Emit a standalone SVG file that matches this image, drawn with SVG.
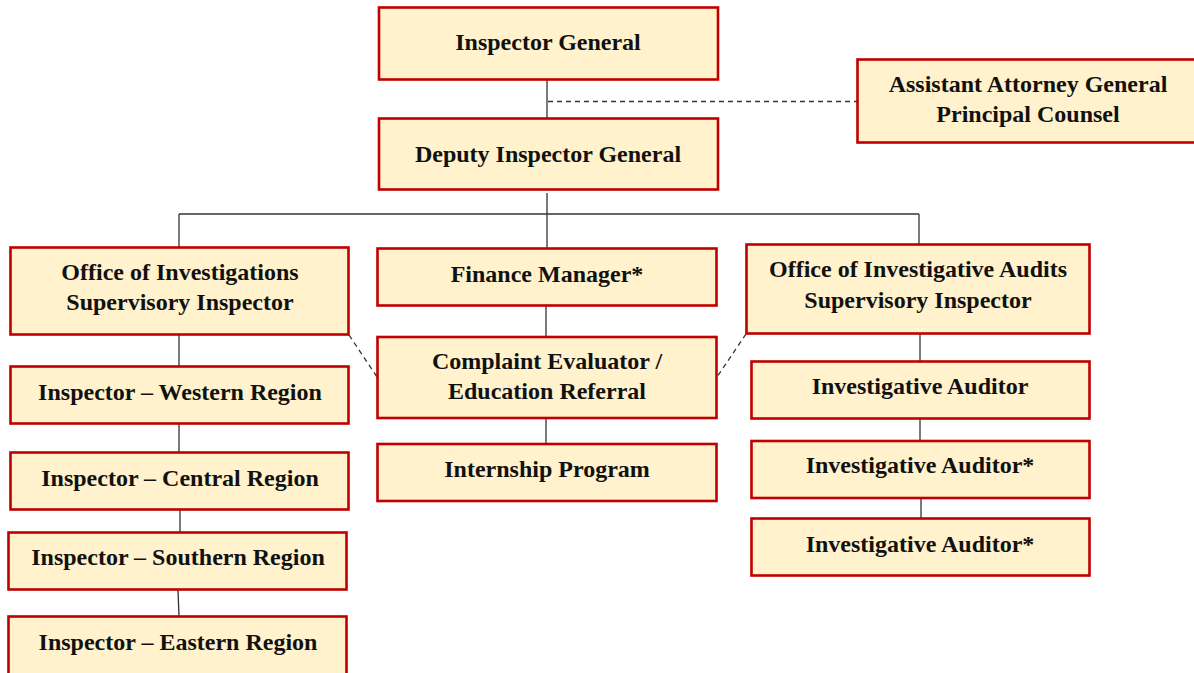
<svg xmlns="http://www.w3.org/2000/svg" width="1194" height="673" viewBox="0 0 1194 673">
<style>
.box{fill:#fff2cc;stroke:#c00000;stroke-width:2.6}
.t{font-family:"Liberation Serif","Times New Roman",serif;font-weight:bold;font-size:24px;fill:#111;text-anchor:middle}
.c{stroke:#333;stroke-width:1.3;fill:none}
.d{stroke:#333;stroke-width:1.3;fill:none;stroke-dasharray:5,4}
</style>
<rect width="1194" height="673" fill="#ffffff"/>
<g id="connectors">
<line class="c" x1="547" y1="80" x2="547" y2="118"/>
<line class="d" x1="548" y1="101.5" x2="857" y2="101.5"/>
<line class="c" x1="547" y1="193" x2="547" y2="248"/>
<line class="c" x1="179" y1="214" x2="919" y2="214"/>
<line class="c" x1="179" y1="214" x2="179" y2="247"/>
<line class="c" x1="919" y1="214" x2="919" y2="244"/>
<line class="c" x1="179" y1="335" x2="179" y2="366"/>
<line class="c" x1="179" y1="424" x2="179" y2="452"/>
<line class="c" x1="180" y1="510" x2="180" y2="532"/>
<line class="c" x1="178" y1="590" x2="179" y2="616"/>
<line class="c" x1="546" y1="306" x2="546" y2="337"/>
<line class="c" x1="546" y1="418" x2="546" y2="444"/>
<line class="c" x1="920" y1="334" x2="920" y2="361"/>
<line class="c" x1="920" y1="419" x2="920" y2="441"/>
<line class="c" x1="921" y1="499" x2="921" y2="518"/>
<line class="d" x1="349" y1="335" x2="377" y2="377"/>
<line class="d" x1="746" y1="334" x2="717" y2="377"/>
</g>
<g id="inspector-general">
<rect class="box" x="379" y="7.5" width="339" height="72"/>
<text class="t" x="548" y="50">Inspector General</text>
</g>
<g id="assistant-attorney-general">
<rect class="box" x="857.5" y="59.5" width="342" height="83"/>
<text class="t" x="1028" y="92">Assistant Attorney General</text>
<text class="t" x="1028" y="122">Principal Counsel</text>
</g>
<g id="deputy-inspector-general">
<rect class="box" x="379" y="118.5" width="339" height="71"/>
<text class="t" x="548" y="162">Deputy Inspector General</text>
</g>
<g id="office-of-investigations">
<rect class="box" x="10.5" y="247.5" width="338" height="87"/>
<text class="t" x="180" y="280">Office of Investigations</text>
<text class="t" x="180" y="310">Supervisory Inspector</text>
</g>
<g id="inspector-western">
<rect class="box" x="10.5" y="366.5" width="338" height="57"/>
<text class="t" x="180" y="400">Inspector – Western Region</text>
</g>
<g id="inspector-central">
<rect class="box" x="10.5" y="452.5" width="338" height="57"/>
<text class="t" x="180" y="486">Inspector – Central Region</text>
</g>
<g id="inspector-southern">
<rect class="box" x="8.5" y="532.5" width="338" height="57"/>
<text class="t" x="178" y="565">Inspector – Southern Region</text>
</g>
<g id="inspector-eastern">
<rect class="box" x="8.5" y="616.5" width="338" height="70"/>
<text class="t" x="178" y="650">Inspector – Eastern Region</text>
</g>
<g id="finance-manager">
<rect class="box" x="377.5" y="248.5" width="339" height="57"/>
<text class="t" x="547" y="282">Finance Manager*</text>
</g>
<g id="complaint-evaluator">
<rect class="box" x="377.5" y="337" width="339" height="81"/>
<text class="t" x="547" y="369">Complaint Evaluator /</text>
<text class="t" x="547" y="399">Education Referral</text>
</g>
<g id="internship-program">
<rect class="box" x="377.5" y="444" width="339" height="57"/>
<text class="t" x="547" y="477">Internship Program</text>
</g>
<g id="office-of-investigative-audits">
<rect class="box" x="746.5" y="244.5" width="343" height="89"/>
<text class="t" x="918" y="277">Office of Investigative Audits</text>
<text class="t" x="918" y="308">Supervisory Inspector</text>
</g>
<g id="investigative-auditor-1">
<rect class="box" x="751.5" y="361.5" width="338" height="57"/>
<text class="t" x="920" y="394">Investigative Auditor</text>
</g>
<g id="investigative-auditor-2">
<rect class="box" x="751.5" y="441" width="338" height="57"/>
<text class="t" x="920" y="473">Investigative Auditor*</text>
</g>
<g id="investigative-auditor-3">
<rect class="box" x="751.5" y="518.5" width="338" height="57"/>
<text class="t" x="920" y="552">Investigative Auditor*</text>
</g>
</svg>
